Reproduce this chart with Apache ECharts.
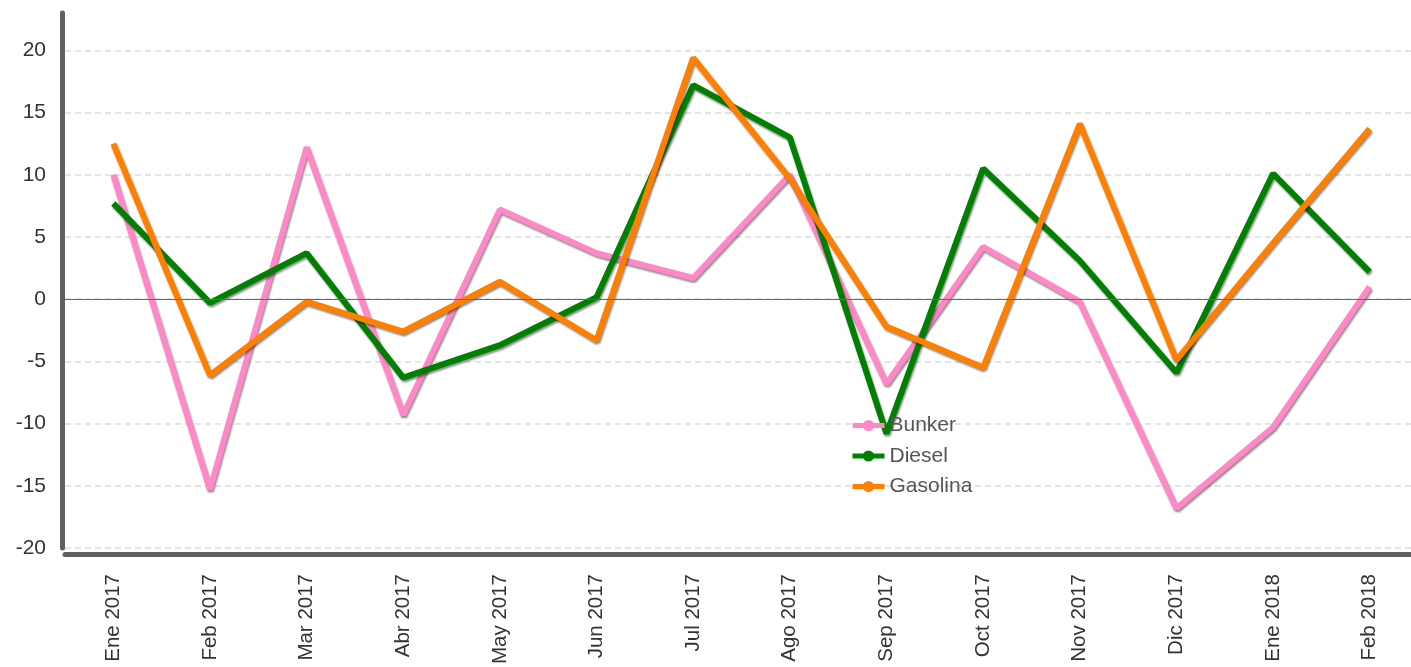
<!DOCTYPE html>
<html>
<head>
<meta charset="utf-8">
<script src="https://cdn.jsdelivr.net/npm/echarts@6/dist/echarts.min.js"></script>
<style>
  html, body { margin: 0; padding: 0; background: #fff; }
  #chart { width: 1411px; height: 667px; }
</style>
</head>
<body>
<div id="chart"></div>
<script>
var months = ['Ene 2017', 'Feb 2017', 'Mar 2017', 'Abr 2017', 'May 2017', 'Jun 2017', 'Jul 2017',
  'Ago 2017', 'Sep 2017', 'Oct 2017', 'Nov 2017', 'Dic 2017', 'Ene 2018', 'Feb 2018']
var bunker = [10.0, -15.3, 12.2, -9.3, 7.2, 3.7, 1.7, 10.0, -6.8, 4.2, -0.2, -16.8, -10.3, 1.0]
var diesel = [7.7, -0.3, 3.7, -6.3, -3.7, 0.15, 17.2, 13.0, -10.8, 10.5, 3.1, -5.9, 10.1, 2.2]
var gasolina = [12.5, -6.1, -0.2, -2.6, 1.4, -3.3, 19.4, 9.7, -2.2, -5.5, 14.1, -4.9, 4.5, 13.7]

var font = "'Liberation Sans', Arial, sans-serif"

function lineSeries(name, color, data) {
  return {
    name: name,
    type: 'line',
    data: data,
    symbol: 'circle',
    symbolSize: 10,
    showSymbol: false,
    itemStyle: { color: color },
    lineStyle: {
      color: color,
      width: 6,
      shadowColor: 'rgba(0,0,0,0.45)',
      shadowBlur: 2,
      shadowOffsetX: 1,
      shadowOffsetY: 2
    },
    emphasis: { disabled: true }
  }
}

var series = [
  lineSeries('Bunker', '#ff88c6', bunker),
  lineSeries('Diesel', '#008000', diesel),
  lineSeries('Gasolina', '#ff8000', gasolina)
]
// linea del cero
series[0].markLine = {
  silent: true,
  symbol: 'none',
  label: { show: false },
  lineStyle: { color: '#666', width: 1, type: 'solid' },
  data: [{ yAxis: 0 }]
}

var chart = echarts.init(document.getElementById('chart'))
chart.setOption({
  animation: false,
  textStyle: { fontFamily: font },
  grid: { left: 65, width: 1353, top: 13, bottom: 119, containLabel: false, outerBoundsMode: 'none' },
  legend: {
    orient: 'vertical',
    left: 845,
    top: 410,
    itemWidth: 32,
    itemHeight: 14,
    itemGap: 9.5,
    lineStyle: { width: 5 },
    textStyle: { color: '#555', fontSize: 21, fontFamily: font },
    data: ['Bunker', 'Diesel', 'Gasolina']
  },
  xAxis: {
    type: 'category',
    data: months,
    offset: 6,
    axisLine: { onZero: false, lineStyle: { color: '#5f5f5f', width: 5 } },
    axisTick: { show: false },
    axisLabel: { rotate: 90, margin: 20, color: '#333', fontSize: 20.5, fontFamily: font, interval: 0 },
    splitLine: { show: false }
  },
  yAxis: {
    type: 'value',
    min: -20,
    max: 23,
    interval: 5,
    offset: 3,
    axisLine: { show: true, lineStyle: { color: '#5f5f5f', width: 5 } },
    axisTick: { show: false },
    axisLabel: { color: '#333', fontSize: 21, margin: 16, fontFamily: font, showMaxLabel: false },
    splitLine: { show: true, showMaxLine: false, lineStyle: { color: '#dcdcdc', type: [6, 4], width: 1.5 } }
  },
  series: series
})
</script>
</body>
</html>
